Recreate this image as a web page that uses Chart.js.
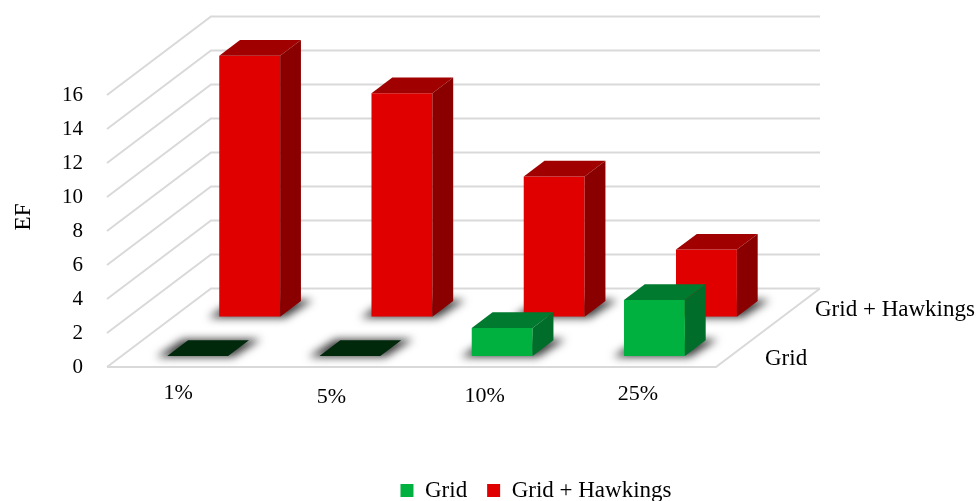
<!DOCTYPE html>
<html>
<head>
<meta charset="utf-8">
<title>EF</title>
<script src="https://cdn.jsdelivr.net/npm/chart.js@4"></script>
<style>
    html, body { margin: 0; padding: 0; background: #fff; }
    canvas { display: block; }
</style>
</head>
<body>
<canvas id="efChart" width="979" height="501"></canvas>
<script>
const categories = ['1%', '5%', '10%', '25%'];
const gridValues = [0, 0, 1.65, 3.3];
const hawkingsValues = [15.35, 13.15, 8.25, 3.95];
const yTicks = [0, 2, 4, 6, 8, 10, 12, 14, 16];

// Oblique projection of the box: full depth of the floor in pixels
const DEPTH_X = 104;
const DEPTH_Y = 78.5;
const BAR_DEPTH = 0.2;
const SERIF = '"Liberation Serif", "Times New Roman", serif';

// How far back on the floor each series stands, and its face colours
const rows = [
    { depth: 0.14, top: '#007a2f', side: '#006e2a', flat: '#00290c', labelX: 49, labelY: 8 },
    { depth: 0.64, top: '#a00000', side: '#8a0000', flat: '#00290c', labelX: 99, labelY: 57 }
];

// Tick labels sit a little unevenly under the floor
const labelNudgeX = [-5, -4, -3, -2];
const labelNudgeY = [0, 4, 3, 1];

function polygon(ctx, points, fill) {
    ctx.beginPath();
    points.forEach((p, i) => i ? ctx.lineTo(p[0], p[1]) : ctx.moveTo(p[0], p[1]));
    ctx.closePath();
    ctx.fillStyle = fill;
    ctx.fill();
}

const box3d = {
    id: 'box3d',
    afterLayout(chart) {
        // legend is centred under the floor, not under the whole chart
        chart.legend.left += 178;
        chart.legend.right += 178;
        chart.legend.top += 11;
    },
    beforeDatasetsDraw(chart) {
        const { ctx, chartArea: area, scales: { y } } = chart;
        ctx.save();
        ctx.strokeStyle = '#d9d9d9';
        ctx.lineWidth = 2;
        ctx.beginPath();
        y.ticks.forEach(t => {
            const py = y.getPixelForValue(t.value);
            ctx.moveTo(area.left, py);
            ctx.lineTo(area.left + DEPTH_X, py - DEPTH_Y);
            ctx.lineTo(area.right + DEPTH_X, py - DEPTH_Y);
        });
        // front edge and right edge of the floor
        const floor = y.getPixelForValue(0);
        ctx.moveTo(area.left, floor);
        ctx.lineTo(area.right, floor);
        ctx.lineTo(area.right + DEPTH_X, floor - DEPTH_Y);
        ctx.stroke();

        // soft shadows on the floor
        ctx.filter = 'blur(4px)';
        chart.data.datasets.forEach((ds, i) => {
            const row = rows[i];
            const dx = DEPTH_X * row.depth, dy = DEPTH_Y * row.depth;
            const bx = DEPTH_X * BAR_DEPTH, by = DEPTH_Y * BAR_DEPTH;
            chart.getDatasetMeta(i).data.forEach(bar => {
                const l = bar.x - bar.width / 2 + dx, r = bar.x + bar.width / 2 + dx;
                const b = floor - dy;
                polygon(ctx, [[l - 11, b + 1], [r + 5, b + 1], [r + bx + 12, b - by - 1], [l + bx - 5, b - by - 1]], '#3c3c3c');
            });
        });
        ctx.restore();
    },
    beforeDatasetDraw(chart, args) {
        const row = rows[args.index];
        chart.ctx.save();
        chart.ctx.translate(DEPTH_X * row.depth, -DEPTH_Y * row.depth);
    },
    afterDatasetDraw(chart, args) {
        const { ctx } = chart;
        const row = rows[args.index];
        const bx = DEPTH_X * BAR_DEPTH, by = DEPTH_Y * BAR_DEPTH;
        args.meta.data.forEach(bar => {
            const l = bar.x - bar.width / 2, r = bar.x + bar.width / 2;
            const empty = bar.base - bar.y < 0.5;
            polygon(ctx, [[l, bar.y], [r, bar.y], [r + bx, bar.y - by], [l + bx, bar.y - by]], empty ? row.flat : row.top);
            if (!empty) {
                polygon(ctx, [[r, bar.y], [r + bx, bar.y - by], [r + bx, bar.base - by], [r, bar.base]], row.side);
            }
        });
        ctx.restore();
    },
    beforeDraw(chart) {
        const items = chart.scales.x.getLabelItems(chart.chartArea);
        if (!items.nudged) {
            items.forEach((item, i) => {
                item.options.translation[0] += labelNudgeX[i];
                item.options.translation[1] += labelNudgeY[i];
            });
            items.nudged = true;
        }
    },
    afterDraw(chart) {
        const { ctx, chartArea: area, scales: { y } } = chart;
        const floor = y.getPixelForValue(0);
        ctx.save();
        ctx.fillStyle = '#000';
        ctx.font = '23px ' + SERIF;
        ctx.textBaseline = 'middle';
        // series names along the right edge of the floor
        chart.data.datasets.forEach((ds, i) => {
            const row = rows[i];
            ctx.fillText(ds.label, area.right + row.labelX, floor - row.labelY);
        });
        // y axis title
        ctx.translate(24, 217);
        ctx.rotate(-Math.PI / 2);
        ctx.textAlign = 'center';
        ctx.fillText('EF', 0, 0);
        ctx.restore();
    }
};

new Chart(document.getElementById('efChart').getContext('2d'), {
    type: 'bar',
    data: {
        labels: categories,
        datasets: [
            { label: 'Grid', data: gridValues, backgroundColor: '#00b140' },
            { label: 'Grid + Hawkings', data: hawkingsValues, backgroundColor: '#e00000' }
        ]
    },
    plugins: [box3d],
    options: {
        responsive: false,
        animation: false,
        layout: { padding: { top: 95, right: 263, left: 0, bottom: 0 } },
        datasets: { bar: { grouped: false, categoryPercentage: 0.4, barPercentage: 1, borderWidth: 0 } },
        plugins: {
            tooltip: { enabled: false },
            legend: {
                position: 'bottom',
                labels: {
                    boxWidth: 13,
                    boxHeight: 13,
                    padding: 20,
                    color: '#000',
                    font: { family: SERIF, size: 23 }
                }
            }
        },
        scales: {
            x: {
                grid: { display: false },
                border: { display: false },
                afterFit(scale) { scale.height = 81; },
                ticks: {
                    padding: 5,
                    maxRotation: 0,
                    color: '#000',
                    font: { family: SERIF, size: 22 }
                }
            },
            y: {
                min: 0,
                max: 16,
                afterBuildTicks(scale) { scale.ticks = yTicks.map(value => ({ value })); },
                grid: { display: false },
                border: { display: false },
                afterFit(scale) { scale.width = 107; },
                ticks: {
                    padding: 16,
                    color: '#000',
                    font: { family: SERIF, size: 21 }
                }
            }
        }
    }
});
</script>
</body>
</html>
